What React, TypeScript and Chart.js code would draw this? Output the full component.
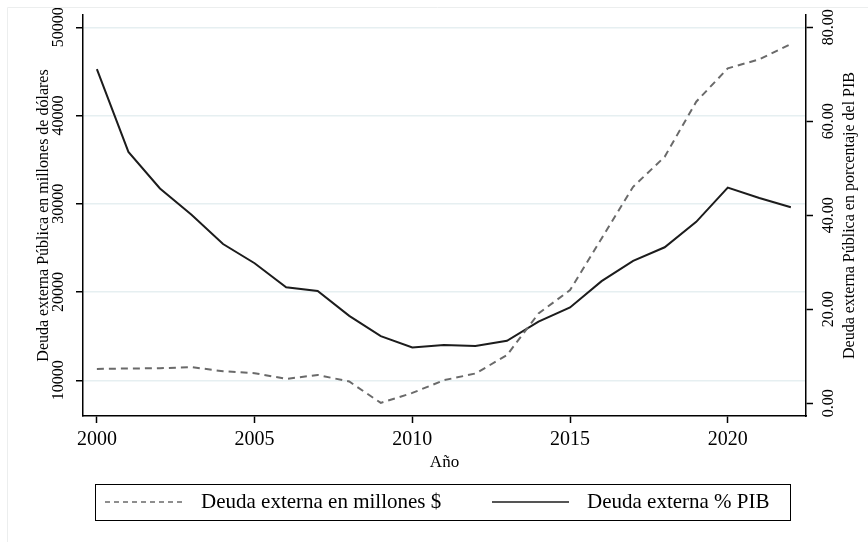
import React, { useEffect, useRef } from "react";
import { Chart, registerables } from "chart.js";

Chart.register(...registerables);

// ---- Data ----
const years = [2000, 2001, 2002, 2003, 2004, 2005, 2006, 2007, 2008, 2009, 2010, 2011, 2012, 2013, 2014, 2015, 2016, 2017, 2018, 2019, 2020, 2021, 2022];
const deudaMillones = [11290, 11340, 11370, 11490, 11030, 10810, 10160, 10610, 9860, 7440, 8570, 10010, 10770, 12850, 17570, 20220, 26080, 31930, 35330, 41570, 45350, 46370, 48110];
const deudaPIB = [71.1, 53.5, 45.7, 40.1, 33.9, 29.8, 24.7, 23.9, 18.6, 14.3, 11.9, 12.4, 12.2, 13.3, 17.4, 20.4, 26.0, 30.3, 33.2, 38.6, 45.9, 43.7, 41.7];

const xTicks = [2000, 2005, 2010, 2015, 2020];
const leftTicks = [10000, 20000, 30000, 40000, 50000];
const rightTicks = [0, 20, 40, 60, 80];

const seriesLabels = ["Deuda externa en millones $", "Deuda externa % PIB"];
const xTitle = "Año";
const leftTitle = "Deuda externa Pública en millones de dólares";
const rightTitle = "Deuda externa Pública en porcentaje del PIB";

const FONT = "'Liberation Serif', 'Times New Roman', serif";

const decorPlugin = {
  id: "decor",
  afterDraw(chart: any) {
    const ctx = chart.ctx as CanvasRenderingContext2D;
    const area = chart.chartArea;
    ctx.save();
    // faint outer frame (left & top)
    ctx.strokeStyle = "#eceeee";
    ctx.lineWidth = 1;
    ctx.beginPath();
    ctx.moveTo(7.5, chart.height);
    ctx.lineTo(7.5, 7.5);
    ctx.lineTo(chart.width, 7.5);
    ctx.stroke();

    // y-axis titles, both read bottom-to-top
    const cy = (area.top + area.bottom) / 2;
    ctx.fillStyle = "#000";
    ctx.font = `16px ${FONT}`;
    ctx.textAlign = "center";
    ctx.textBaseline = "alphabetic";
    const titles: [string, number][] = [
      [leftTitle, chart.scales.y.left + 48],
      [rightTitle, chart.scales.y1.right - 14],
    ];
    for (const [t, x] of titles) {
      ctx.save();
      ctx.translate(x, cy);
      ctx.rotate(-Math.PI / 2);
      ctx.fillText(t, 0, 0);
      ctx.restore();
    }

    // legend box
    const bx = 95.5, by = 484.5, bw = 695, bh = 36;
    ctx.strokeStyle = "#000";
    ctx.lineWidth = 1;
    ctx.strokeRect(bx, by, bw, bh);
    const ly = 502;
    const entries = [
      { x0: 105, x1: 186, tx: 201 },
      { x0: 492, x1: 569, tx: 587 },
    ];
    chart.data.datasets.forEach((ds: any, i: number) => {
      const e = entries[i];
      ctx.save();
      ctx.strokeStyle = ds.borderColor;
      ctx.lineWidth = 1.5;
      ctx.setLineDash(ds.borderDash && ds.borderDash.length ? [5, 4] : []);
      ctx.beginPath();
      ctx.moveTo(e.x0, ly);
      ctx.lineTo(e.x1, ly);
      ctx.stroke();
      ctx.restore();
      ctx.fillStyle = "#000";
      ctx.font = `21px ${FONT}`;
      ctx.textAlign = "left";
      ctx.textBaseline = "alphabetic";
      ctx.fillText(ds.label, e.tx, 508);
    });
    ctx.restore();
  },
};

export default function App() {
  const ref = useRef<HTMLCanvasElement | null>(null);

  useEffect(() => {
    if (!ref.current) return;
    const chart = new Chart(ref.current, {
      type: "line",
      data: {
        datasets: [
          {
            label: seriesLabels[0],
            data: years.map((y, i) => ({ x: y, y: deudaMillones[i] })),
            yAxisID: "y",
            borderColor: "#6a6a6a",
            borderWidth: 2,
            borderDash: [7, 5],
            pointRadius: 0,
            tension: 0,
            fill: false,
          },
          {
            label: seriesLabels[1],
            data: years.map((y, i) => ({ x: y, y: deudaPIB[i] })),
            yAxisID: "y1",
            borderColor: "#1c1c1c",
            borderWidth: 2,
            pointRadius: 0,
            tension: 0,
            fill: false,
          },
        ],
      },
      options: {
        responsive: false,
        animation: false,
        layout: { padding: { top: 15, left: 0, right: 0, bottom: 0 } },
        plugins: { legend: { display: false }, tooltip: { enabled: false } },
        scales: {
          x: {
            type: "linear",
            position: "bottom",
            min: 1999.56,
            max: 2022.48,
            afterBuildTicks: (s: any) => {
              s.ticks = xTicks.map((v) => ({ value: v }));
            },
            afterFit: (s: any) => {
              s.height = 126;
            },
            ticks: {
              autoSkip: false,
              maxRotation: 0,
              minRotation: 0,
              padding: 5,
              color: "#000",
              font: { family: FONT, size: 20 },
              callback: (v: any) => String(v),
            },
            grid: { drawOnChartArea: false, drawTicks: true, tickLength: 7, tickColor: "#000", tickWidth: 1.5 },
            border: { display: true, color: "#000", width: 1.5 },
            title: {
              display: true,
              text: xTitle,
              color: "#000",
              font: { family: FONT, size: 17 },
              padding: { top: 0, bottom: 69 },
            },
          },
          y: {
            type: "linear",
            position: "left",
            min: 5955,
            max: 51394,
            afterBuildTicks: (s: any) => {
              s.ticks = leftTicks.map((v) => ({ value: v }));
            },
            afterFit: (s: any) => {
              s.width = 83;
            },
            ticks: {
              autoSkip: false,
              minRotation: 90,
              maxRotation: 90,
              crossAlign: "center",
              padding: -3,
              color: "#000",
              font: { family: FONT, size: 16 },
              callback: (v: any) => String(v),
            },
            grid: { drawOnChartArea: true, color: "#e6eff1", lineWidth: 1.5, drawTicks: true, tickLength: 7, tickColor: "#000", tickWidth: 1.5 },
            border: { display: true, color: "#000", width: 1.5 },
          },
          y1: {
            type: "linear",
            position: "right",
            min: -2.7,
            max: 82.62,
            afterBuildTicks: (s: any) => {
              s.ticks = rightTicks.map((v) => ({ value: v }));
            },
            afterFit: (s: any) => {
              s.width = 62;
            },
            ticks: {
              autoSkip: false,
              minRotation: 90,
              maxRotation: 90,
              crossAlign: "center",
              padding: -2,
              color: "#000",
              font: { family: FONT, size: 16 },
              callback: (v: any) => Number(v).toFixed(2),
            },
            grid: { drawOnChartArea: false, drawTicks: true, tickLength: 7, tickColor: "#000", tickWidth: 1.5 },
            border: { display: true, color: "#000", width: 1.5 },
          },
        },
      } as any,
      plugins: [decorPlugin],
    });
    return () => chart.destroy();
  }, []);

  return (
    <div style={{ position: "absolute", left: 0, top: 0, width: 868, height: 542, background: "#fff" }}>
      <canvas ref={ref} width={868} height={542} style={{ display: "block" }} />
    </div>
  );
}
